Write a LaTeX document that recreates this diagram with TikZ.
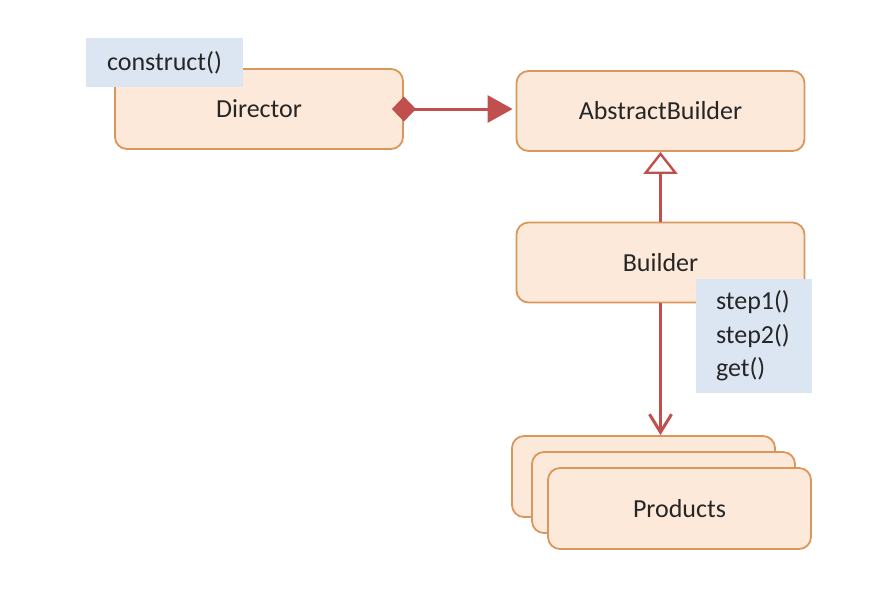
\documentclass[tikz,border=0pt]{standalone}
\usepackage{fontspec}
\setmainfont{Carlito}
\usetikzlibrary{arrows.meta}
\definecolor{boxfill}{HTML}{FDE9D9}
\definecolor{boxline}{HTML}{D9975B}
\definecolor{notefill}{HTML}{DCE6F2}
\definecolor{linkred}{HTML}{C0504D}
\tikzset{
	classbox/.style={draw=boxline, fill=boxfill, line width=0.9pt, rounded corners=6pt,
		minimum width=144pt, minimum height=40pt, font=\fontsize{13}{16.5}\selectfont, text=black!85},
	stackbox/.style={classbox, minimum width=131.5pt, minimum height=40.5pt},
	notebox/.style={fill=notefill, font=\fontsize{13}{16.75}\selectfont, text=black!85},
	link/.style={draw=linkred, line width=1.5pt}
}
\begin{document}
\begin{tikzpicture}[x=0.5pt,y=-0.5pt]
	\useasboundingbox (0,0) rectangle (872,602);
	% draw classes
	\node[classbox] (director) at (259,109) {Director};
	\node[notebox, minimum width=78.5pt, minimum height=24.5pt, inner sep=0pt] (construct) at (164.5,62.5) {construct()};
	\node[classbox] (abstract) at (660.5,111) {AbstractBuilder};
	\node[classbox] (builder) at (660.5,262.5) {Builder};
	\node[notebox, text width=38pt, inner xsep=10pt, minimum height=57pt, align=left] (steps) at (754,336) {step1()\\step2()\\get()};
	% draw products stack
	\node[stackbox] (back) at (643.5,476.5) {};
	\node[stackbox] (middle) at (663.5,492.5) {};
	\node[stackbox] (products) at (679.5,508.5) {Products};
	% draw relations
	\draw[link, {Diamond[length=12pt,width=12.5pt]}-{Triangle[length=12.5pt,width=13.5pt]}, shorten >=1.5pt]
		([xshift=-6pt]director.east) -- (director.east -| abstract.west);
	\draw[link, -{Triangle[open, length=11pt, width=17pt, line width=1.2pt]}] (builder.north) -- (abstract.south);
	\draw[link, -{Straight Barb[length=9pt, width=11pt, line width=1.5pt]}] (builder.south) -- (builder.south |- back.north);
\end{tikzpicture}
\end{document}
